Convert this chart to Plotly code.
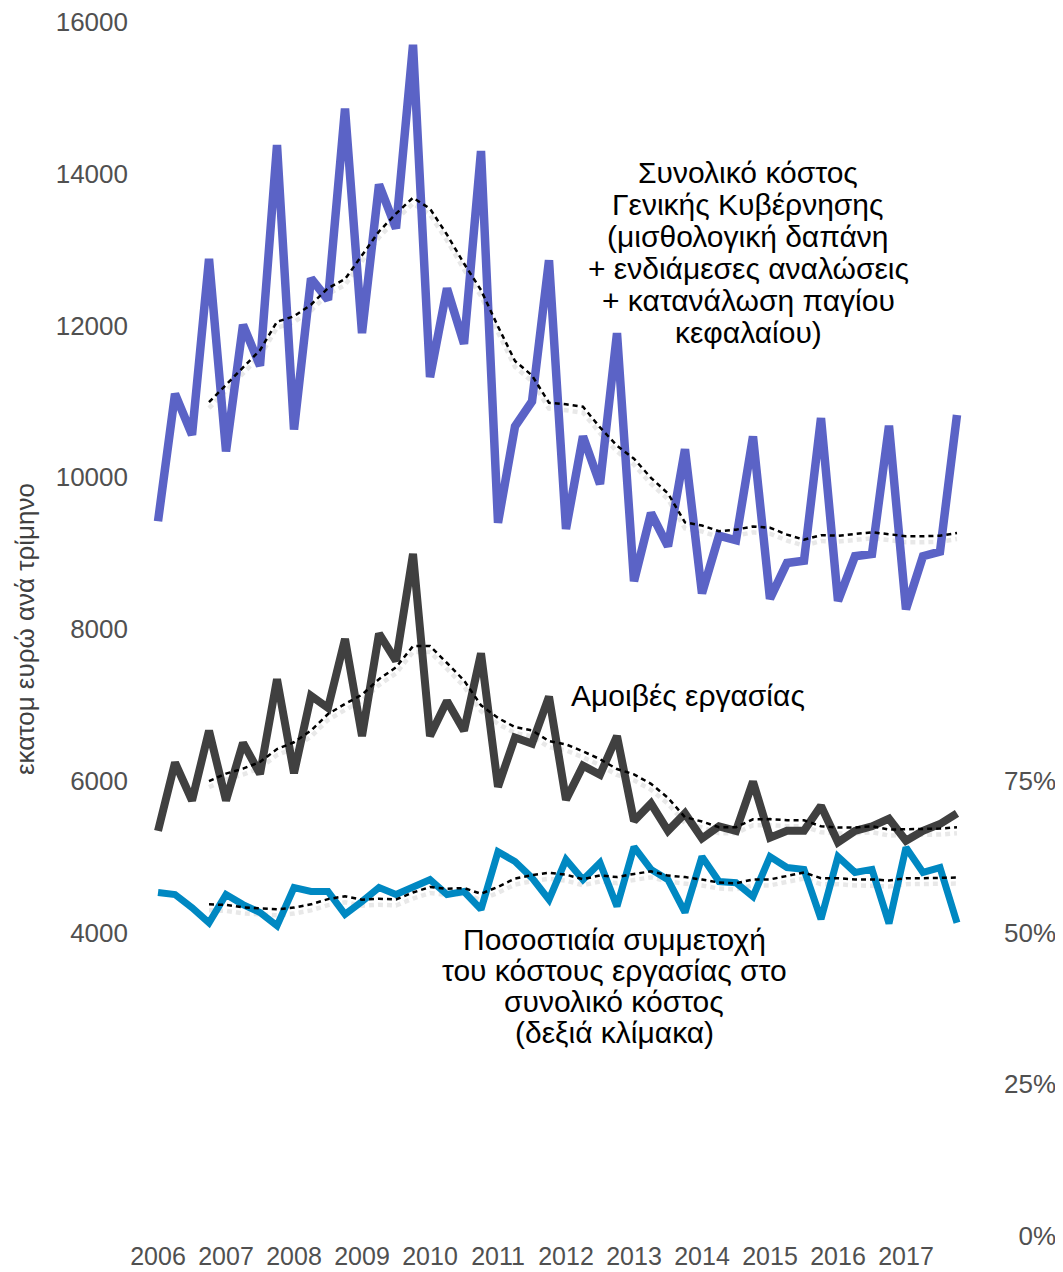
import plotly.graph_objects as go
import pandas as pd

# ---------------- data (quarterly, 2006Q1 - 2017Q4) ----------------
years = [str(y) for y in range(2006, 2018)]
quarter_index = list(range(48))

total_cost = [9420, 11100, 10560, 12880, 10340, 12010, 11470, 14380,
              10630, 12620, 12340, 14860, 11900, 13860, 13280, 15700,
              11320, 12490, 11760, 14300, 9400, 10670, 11000, 12860,
              9320, 10540, 9910, 11900, 8630, 9530, 9090, 10370,
              8470, 9230, 9170, 10540, 8400, 8870, 8900, 10780,
              8370, 8960, 8990, 10680, 8260, 8960, 9020, 10820]

compensation = [5340, 6240, 5740, 6660, 5740, 6500, 6090, 7340,
                6100, 7120, 6960, 7870, 6590, 7940, 7580, 8990,
                6590, 7050, 6660, 7680, 5920, 6570, 6490, 7110,
                5750, 6200, 6080, 6590, 5470, 5700, 5340, 5570,
                5240, 5400, 5340, 5990, 5250, 5340, 5340, 5670,
                5190, 5340, 5400, 5500, 5210, 5340, 5430, 5570]

labour_share = [0.566, 0.5625, 0.541, 0.516, 0.5625, 0.546, 0.533, 0.511,
                0.574, 0.5675, 0.5675, 0.530, 0.551, 0.574, 0.5625, 0.576,
                0.587, 0.5625, 0.5675, 0.538, 0.633, 0.617, 0.590, 0.554,
                0.620, 0.587, 0.615, 0.543, 0.641, 0.604, 0.587, 0.533,
                0.625, 0.584, 0.582, 0.559, 0.625, 0.607, 0.604, 0.522,
                0.625, 0.599, 0.604, 0.515, 0.640, 0.599, 0.607, 0.516]

left_ticks = [4000, 6000, 8000, 10000, 12000, 14000, 16000]
left_tick_text = ["4000", "6000", "8000", "10000", "12000", "14000", "16000"]
right_ticks = [0, 0.25, 0.5, 0.75]
right_tick_text = ["\u20070%", "25%", "50%", "75%"]

total_label_lines = ["Συνολικό κόστος", "Γενικής Κυβέρνησης", "(μισθολογική δαπάνη",
                     "+ ενδιάμεσες αναλώσεις", "+ κατανάλωση παγίου", "κεφαλαίου)"]
comp_label = "Αμοιβές εργασίας"
share_label_lines = ["Ποσοστιαία συμμετοχή", "του κόστους εργασίας στο",
                     "συνολικό κόστος", "(δεξιά κλίμακα)"]
y_title = "εκατομ ευρώ ανά τρίμηνο"

# trailing 4-quarter moving averages (trend lines)
total_ma = pd.Series(total_cost).rolling(4).mean().tolist()
comp_ma = pd.Series(compensation).rolling(4).mean().tolist()
share_ma = pd.Series(labour_share).rolling(4).mean().tolist()

# ---------------- styling ----------------
OFF = 8  # page body margin
W, H = 1063 - OFF, 1272 - OFF
ML, MT = 140 - OFF, 22 - OFF
PW, PH = 835, 1214
MR, MB = W - ML - PW, H - MT - PH
FONT = "Liberation Sans, Arial, Helvetica, sans-serif"
PURPLE = "#5B63C6"
GREY = "#404040"
BLUE = "#0088C2"
TICKC = "#505050"

L_RANGE = [0, 16000]
R_RANGE = [0, 2.0]
SHADOW_PX = 6
l_shift = SHADOW_PX * (L_RANGE[1] - L_RANGE[0]) / PH
r_shift = SHADOW_PX * (R_RANGE[1] - R_RANGE[0]) / PH

DASH = "5px,4px"
SHADOW = "rgba(0,0,0,0.09)"

fig = go.Figure()

# soft shadows under the trend lines (lowest layers)
for ma in (total_ma, comp_ma):
    fig.add_trace(go.Scatter(x=quarter_index, y=ma, mode="lines", yaxis="y",
                             line=dict(color=SHADOW, width=4.5, dash=DASH),
                             hoverinfo="skip", showlegend=False))
fig.add_trace(go.Scatter(x=quarter_index, y=share_ma, mode="lines", yaxis="y2",
                         line=dict(color=SHADOW, width=4.5, dash=DASH),
                         hoverinfo="skip", showlegend=False))

# main series (left scale)
fig.add_trace(go.Scatter(x=quarter_index, y=total_cost, mode="lines", yaxis="y3",
                         line=dict(color=PURPLE, width=8.5), showlegend=False))
fig.add_trace(go.Scatter(x=quarter_index, y=compensation, mode="lines", yaxis="y3",
                         line=dict(color=GREY, width=8), showlegend=False))
fig.add_trace(go.Scatter(x=quarter_index, y=total_ma, mode="lines", yaxis="y3",
                         line=dict(color="black", width=2.5, dash=DASH), showlegend=False))
fig.add_trace(go.Scatter(x=quarter_index, y=comp_ma, mode="lines", yaxis="y3",
                         line=dict(color="black", width=2.5, dash=DASH), showlegend=False))

# share (right scale)
fig.add_trace(go.Scatter(x=quarter_index, y=labour_share, mode="lines", yaxis="y4",
                         line=dict(color=BLUE, width=7), showlegend=False))
fig.add_trace(go.Scatter(x=quarter_index, y=share_ma, mode="lines", yaxis="y4",
                         line=dict(color="black", width=2.5, dash=DASH), showlegend=False))

hidden = dict(showgrid=False, zeroline=False, showline=False, showticklabels=False, ticks="")

fig.update_layout(
    width=W, height=H,
    margin=dict(l=ML, r=MR, t=MT, b=MB, autoexpand=False),
    paper_bgcolor="white", plot_bgcolor="white",
    font=dict(family=FONT, size=26, color=TICKC),
    xaxis=dict(range=[-1.06, 48.06], tickmode="array",
               tickvals=[i * 4 for i in range(len(years))], ticktext=years,
               showgrid=False, zeroline=False, showline=False, ticks="",
               tickfont=dict(size=25, color=TICKC), ticklabelstandoff=3,
               ticklabeloverflow="allow", automargin=False),
    yaxis=dict(range=[L_RANGE[0] + l_shift, L_RANGE[1] + l_shift], **hidden),
    yaxis2=dict(range=[R_RANGE[0] + r_shift, R_RANGE[1] + r_shift], overlaying="y", **hidden),
    yaxis3=dict(range=[L_RANGE[0], L_RANGE[1] + 1], overlaying="y", side="left", tickmode="array",
                tickvals=left_ticks, ticktext=left_tick_text,
                showgrid=False, zeroline=False, showline=False, ticks="",
                tickfont=dict(size=26, color=TICKC), ticklabelstandoff=11,
                ticklabeloverflow="allow", automargin=False),
    yaxis4=dict(range=R_RANGE, overlaying="y", side="right", tickmode="array",
                tickvals=right_ticks, ticktext=right_tick_text,
                showgrid=False, zeroline=False, showline=False, ticks="",
                tickfont=dict(size=26, color=TICKC), ticklabelstandoff=28,
                ticklabeloverflow="allow", automargin=False),
)


def px_x(p):
    return (p - OFF - ML) / PW


def px_y(p):
    return 1 - (p - OFF - MT) / PH


def label(text, x, y, size=30, color="black", angle=0):
    fig.add_annotation(text=text, textangle=angle, xref="paper", yref="paper",
                       x=px_x(x), y=px_y(y), xanchor="center", yanchor="middle",
                       borderpad=0, showarrow=False,
                       font=dict(family=FONT, size=size, color=color))


label(y_title, 25, 629, size=26, color="#404040", angle=-90)

for line, yy in zip(total_label_lines, [172, 204, 237, 269, 301, 333]):
    label(line, 748, yy)

label(comp_label, 688, 696)

for line, yy in zip(share_label_lines, [940, 970, 1001, 1032]):
    label(line, 614, yy)

fig.write_html("out.html")
